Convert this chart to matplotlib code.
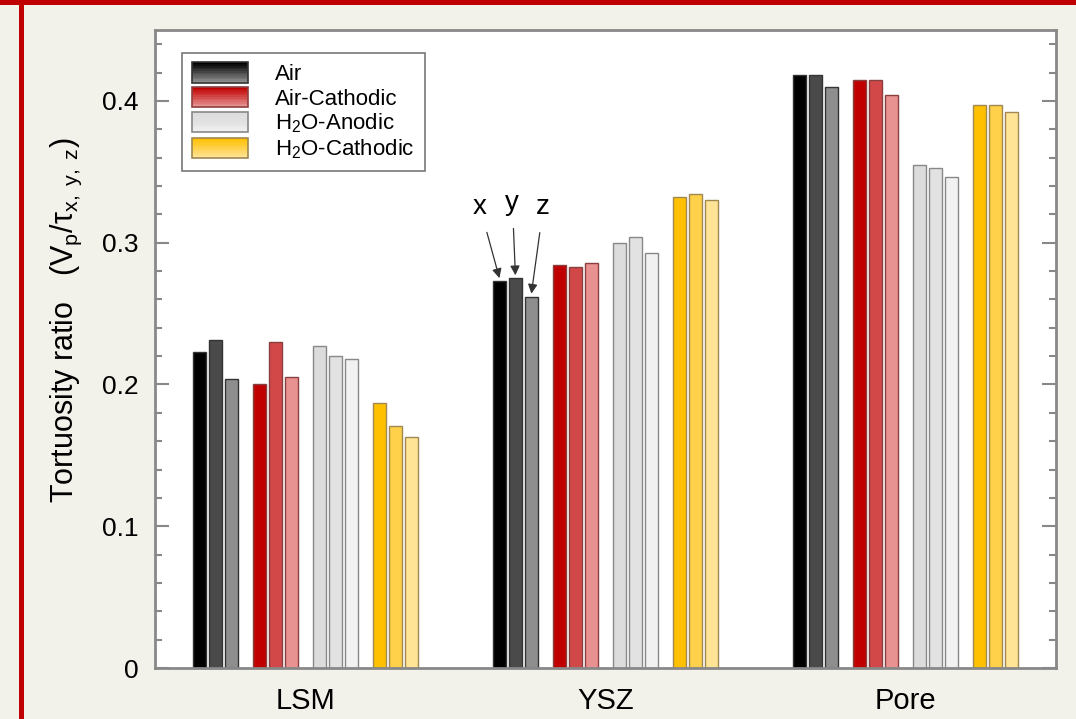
import numpy as np
import matplotlib
matplotlib.use("Agg")
import matplotlib.pyplot as plt
from matplotlib.patches import Rectangle
from matplotlib.legend_handler import HandlerBase
from matplotlib.colors import to_rgb

plt.rcParams['font.family'] = ['Liberation Sans', 'DejaVu Sans']
plt.rcParams['mathtext.fontset'] = 'custom'
plt.rcParams['mathtext.rm'] = 'Liberation Sans'
plt.rcParams['mathtext.it'] = 'Liberation Sans'
plt.rcParams['mathtext.default'] = 'regular'

phases = ["LSM", "YSZ", "Pore"]
conditions = ["Air", "Air-Cathodic", "H$_2$O-Anodic", "H$_2$O-Cathodic"]
directions = ["x", "y", "z"]

# tortuosity ratio per phase -> condition -> (x, y, z)
air = [[0.223, 0.231, 0.204], [0.273, 0.275, 0.262], [0.418, 0.418, 0.410]]
air_cath = [[0.200, 0.230, 0.205], [0.284, 0.283, 0.286], [0.415, 0.415, 0.404]]
h2o_anod = [[0.227, 0.220, 0.218], [0.300, 0.304, 0.293], [0.355, 0.353, 0.346]]
h2o_cath = [[0.187, 0.171, 0.163], [0.332, 0.334, 0.330], [0.397, 0.397, 0.392]]
series = [air, air_cath, h2o_anod, h2o_cath]

colors = [
    ["#000000", "#4a4a4a", "#8e8e8e"],
    ["#c00000", "#d24848", "#e89292"],
    ["#dcdcdc", "#e2e2e2", "#f1f1f1"],
    ["#ffc000", "#ffd04a", "#ffe496"],
]
edges = ["#333333", "#8a4040", "#888888", "#a08850"]

bar_w = 0.043
bar_step = 0.0532
group_step = 0.2


class GradientHandler(HandlerBase):
    def __init__(self, cols, edge):
        super().__init__()
        self.cols = cols
        self.edge = edge

    def create_artists(self, legend, orig_handle, xd, yd, w, h, fontsize, trans):
        artists = []
        n = 12
        c0 = np.array(to_rgb(self.cols[0]))
        c1 = np.array(to_rgb(self.cols[1]))
        c2 = np.array(to_rgb(self.cols[2]))
        hh = h * 1.05
        y0 = -yd - (hh - h) / 2
        for i in range(n):
            t = i / (n - 1)
            if t < 0.5:
                c = c0 + (c1 - c0) * t * 2
            else:
                c = c1 + (c2 - c1) * (t - 0.5) * 2
            r = Rectangle((-xd, y0 + hh - (i + 1) * hh / n), w, hh / n,
                          facecolor=c, edgecolor='none', transform=trans)
            artists.append(r)
        artists.append(Rectangle((-xd, y0), w, hh, facecolor='none',
                                 edgecolor=self.edge, lw=1.2, transform=trans))
        return artists


fig = plt.figure(figsize=(10.76, 7.19), dpi=100, facecolor="#f3f2ea")
ax = fig.add_axes([155 / 1076, 1 - 668 / 719, 901 / 1076, 638 / 719])
ax.set_facecolor("white")

xc = np.arange(len(phases))
for ci, s in enumerate(series):
    for di in range(3):
        offs = (ci - 1.5) * group_step + (di - 1) * bar_step
        vals = [s[p][di] for p in range(len(phases))]
        ax.bar(xc + offs, vals, width=bar_w, color=colors[ci][di],
               edgecolor=edges[ci], linewidth=1.0, zorder=2)

ax.set_xlim(-0.5, 2.5)
ax.set_ylim(0, 0.45)
ax.set_xticks(xc)
ax.set_xticklabels(phases, fontsize=21)
ax.tick_params(axis='x', length=0, pad=14)
ax.set_yticks([0, 0.1, 0.2, 0.3, 0.4])
ax.set_yticklabels(["0", "0.1", "0.2", "0.3", "0.4"], fontsize=19)
ax.set_yticks(np.arange(0, 0.45, 0.02), minor=True)
ax.tick_params(axis='y', which='major', direction='in', length=10, width=1.5,
               color="#888888", right=True, pad=12)
ax.tick_params(axis='y', which='minor', direction='in', length=5, width=1.5,
               color="#888888", right=True)
for sp in ax.spines.values():
    sp.set_color("#888888")
    sp.set_linewidth(2)

ax.set_ylabel("Tortuosity ratio   (V$_p$/τ$_{x,\\ y,\\ z}$)", fontsize=22)
ax.yaxis.set_label_coords(-0.079, 0.545)

# x, y, z arrows on the YSZ / Air bars
label_pos = [(-0.07, 0.325), (-0.01, 0.328), (0.045, 0.325)]
for di, lab in enumerate(directions):
    bx = 1 + (-1.5) * group_step + (di - 1) * bar_step
    top = air[1][di]
    dx, ty = label_pos[di]
    ax.annotate(lab, xy=(bx, top + 0.002), xytext=(1 + (-1.5) * group_step + dx + (di - 1) * bar_step * 0.9, ty),
                fontsize=20, ha='center', va='center',
                arrowprops=dict(arrowstyle='-|>', color='#333333', lw=0.9,
                                shrinkA=7, shrinkB=0, mutation_scale=14))

handles = [Rectangle((0, 0), 1, 1) for _ in conditions]
hmap = {h: GradientHandler(colors[i], edges[i]) for i, h in enumerate(handles)}
leg = ax.legend(handles, conditions, handler_map=hmap, loc='upper left',
                bbox_to_anchor=(0.03, 0.964), fontsize=16, frameon=True,
                fancybox=False, edgecolor="#555555", handlelength=2.5,
                handleheight=0.95, handletextpad=1.25, labelspacing=0.1,
                borderpad=0.45, borderaxespad=0)
leg.get_frame().set_linewidth(1.2)

# red frame lines
fig.patches.append(Rectangle((0, 1 - 5 / 719), 1, 5 / 719, transform=fig.transFigure,
                             facecolor="#c00000", edgecolor='none'))
fig.patches.append(Rectangle((19 / 1076, 0), 5 / 1076, 1, transform=fig.transFigure,
                             facecolor="#c00000", edgecolor='none'))

fig.savefig("out.png", dpi=100, facecolor=fig.get_facecolor())
